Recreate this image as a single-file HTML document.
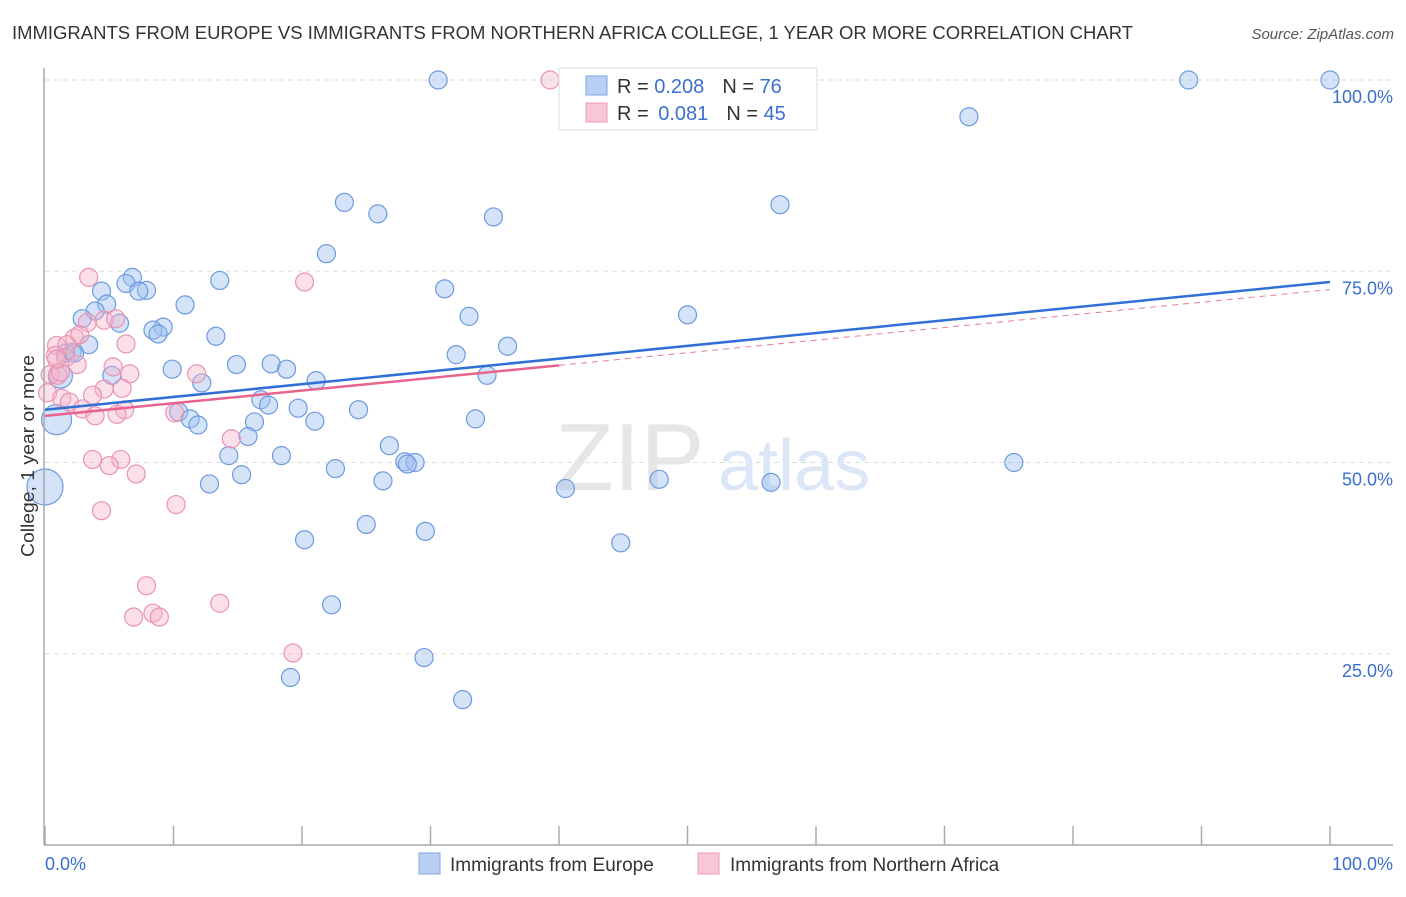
<!DOCTYPE html>
<html><head><meta charset="utf-8">
<style>
body{margin:0;background:#fff;font-family:"Liberation Sans",sans-serif;}
svg text{font-family:"Liberation Sans",sans-serif;}
</style></head>
<body>
<svg id="chart" width="1406" height="892" xmlns="http://www.w3.org/2000/svg">
<text x="12" y="39" font-size="18" fill="#333" textLength="1121" lengthAdjust="spacingAndGlyphs">IMMIGRANTS FROM EUROPE VS IMMIGRANTS FROM NORTHERN AFRICA COLLEGE, 1 YEAR OR MORE CORRELATION CHART</text>
<text x="1394" y="39" font-size="15" fill="#555" text-anchor="end" font-style="italic">Source: ZipAtlas.com</text>
<g id="grid"></g>
<text x="555" y="490" font-size="96" fill="#e6e6e6" font-family="Liberation Serif">ZIP</text>
<text x="718" y="490" font-size="72" fill="#dbe6f6">atlas</text>
<g id="marks"></g>
<line x1="44" y1="68" x2="44" y2="845" stroke="#aaa" stroke-width="1.5"/>
<line x1="44" y1="845" x2="1393" y2="845" stroke="#aaa" stroke-width="1.5"/>
<text transform="translate(34,456) rotate(-90)" font-size="18" fill="#333" text-anchor="middle" textLength="202" lengthAdjust="spacingAndGlyphs">College, 1 year or more</text>
<text x="45" y="870" font-size="18" fill="#3a6fd0">0.0%</text>
<text x="1393" y="870" font-size="18" fill="#3a6fd0" text-anchor="end">100.0%</text>
<g>
<rect x="559" y="68" width="258" height="62" fill="#fff" stroke="#ddd"/>
<rect x="586" y="76" width="21" height="19" fill="#b9d0f3" stroke="#7ea6e6"/>
<rect x="586" y="103" width="21" height="19" fill="#f8c7d6" stroke="#ec9ab4"/>
<text x="617" y="93" font-size="20" fill="#333">R = <tspan fill="#3a6fd0">0.208</tspan><tspan dx="18">N = </tspan><tspan fill="#3a6fd0">76</tspan></text>
<text x="617" y="120" font-size="20" fill="#333">R = <tspan dx="4" fill="#3a6fd0">0.081</tspan><tspan dx="18">N = </tspan><tspan fill="#3a6fd0">45</tspan></text>
</g>
<g>
<rect x="419" y="853" width="21" height="21" fill="#b9d0f3" stroke="#7ea6e6"/>
<text x="450" y="871" font-size="19" fill="#333">Immigrants from Europe</text>
<rect x="698" y="853" width="21" height="21" fill="#f8c7d6" stroke="#ec9ab4"/>
<text x="730" y="871" font-size="19" fill="#333">Immigrants from Northern Africa</text>
</g>
</svg>
<script>
const yTicks=[25,50,75,100];
const yTickLabels=["25.0%","50.0%","75.0%","100.0%"];
const xTicks=[0,10,20,30,40,50,60,70,80,90,100];
const europeX=[30.6,89,100,71.9,23.3,25.9,34.9,57.2,21.9,6.8,13.6,6.3,7.9,7.3,4.4,10.9,4.8,3.9,2.9,5.8,31.1,33,50,9.2,8.4,8.8,13.3,3.4,2.1,1.6,2.3,36,32,14.9,17.6,18.8,9.9,5.2,1.2,21.1,34.4,12.2,16.8,17.4,19.7,24.4,10.4,11.3,11.9,16.3,21,33.5,0.9,15.8,26.8,14.3,18.4,28,28.8,28.2,75.4,22.6,15.3,26.3,47.8,56.5,12.8,40.5,0,25,29.6,20.2,44.8,22.3,29.5,19.1,32.5];
const europeY=[100,100,100,95.2,84,82.5,82.1,83.7,77.3,74.2,73.8,73.4,72.5,72.4,72.4,70.6,70.7,69.8,68.8,68.2,72.7,69.1,69.3,67.7,67.3,66.8,66.5,65.4,64.4,64.3,64.3,65.2,64.1,62.8,62.9,62.2,62.2,61.4,61.3,60.7,61.4,60.4,58.2,57.5,57.1,56.9,56.6,55.7,54.9,55.3,55.4,55.7,55.6,53.4,52.2,50.9,50.9,50.1,50,49.8,50,49.2,48.4,47.6,47.8,47.4,47.2,46.6,46.8,41.9,41,39.9,39.5,31.4,24.5,21.9,19];
const europeR=[9,9,9,9,9,9,9,9,9,9,9,9,9,9,9,9,9,9,9,9,9,9,9,9,9,9,9,9,9,9,9,9,9,9,9,9,9,9,12,9,9,9,9,9,9,9,9,9,9,9,9,9,15,9,9,9,9,9,9,9,9,9,9,9,9,9,9,9,18,9,9,9,9,9,9,9,9];
const africaX=[39.3,3.4,20.2,0.9,4.6,3.3,5.5,2.3,2.7,1.7,6.3,0.8,1.6,5.3,0.4,1,6.6,1.2,4.6,6,3.7,0.2,1.3,1.9,2.9,6.2,5.6,3.9,10.1,11.8,14.5,3.7,5.9,5,7.1,4.4,10.2,7.9,13.6,6.9,8.4,8.9,19.3,0.9,2.5];
const africaY=[100,74.2,73.6,65.3,68.6,68.3,68.8,66.3,66.7,65.4,65.5,64,63.7,62.5,61.5,61.4,61.6,61.8,59.6,59.7,58.8,59.1,58.4,57.9,57,56.9,56.3,56.1,56.5,61.6,53.1,50.4,50.4,49.6,48.5,43.7,44.5,33.9,31.6,29.8,30.3,29.8,25.1,63.5,62.8];
const europeFit=[56.9,73.6];
const africaFit=[56.1,72.6];
const africaSolidEnd=40;
const X=v=>45+v*12.85, Y=v=>845-v*7.65;
const NS="http://www.w3.org/2000/svg";
const grid=document.getElementById('grid'), marks=document.getElementById('marks');
function mk(tag,attrs,parent){const e=document.createElementNS(NS,tag);for(const k in attrs)e.setAttribute(k,attrs[k]);parent.appendChild(e);return e;}
yTicks.forEach((t,i)=>{
  const g=mk('line',{x1:45,x2:1393,y1:Y(t),y2:Y(t),stroke:'#ddd','stroke-dasharray':'5,4'},grid);
  
  
  const l=mk('text',{x:1393,y:Y(t)+23,'font-size':18,fill:'#3a6fd0','text-anchor':'end'},grid);
  l.textContent=yTickLabels[i];
  
  
});
xTicks.forEach(t=>{
  const k=mk('line',{x1:X(t),x2:X(t),y1:826,y2:845,stroke:'#aaa','stroke-width':1.5},grid);
  
  
});
europeX.forEach((x,i)=>{
  const c=mk('circle',{cx:X(x),cy:Y(europeY[i]),r:europeR[i],fill:'rgba(160,192,240,0.45)',stroke:'#6c9ae0','stroke-width':1.2},marks);
  
  
});
africaX.forEach((x,i)=>{
  const c=mk('circle',{cx:X(x),cy:Y(africaY[i]),r:9,fill:'rgba(245,178,200,0.4)',stroke:'#ea93b0','stroke-width':1.2},marks);
  
  
});
const bl=mk('line',{x1:X(0),y1:Y(europeFit[0]),x2:X(100),y2:Y(europeFit[1]),stroke:'#2f6fd6','stroke-width':2.5},marks);


const pAt=v=>africaFit[0]+(africaFit[1]-africaFit[0])*v/100;
const pl=mk('line',{x1:X(0),y1:Y(pAt(0)),x2:X(africaSolidEnd),y2:Y(pAt(africaSolidEnd)),stroke:'#e8648f','stroke-width':2.5},marks);


const pd=mk('line',{x1:X(africaSolidEnd),y1:Y(pAt(africaSolidEnd)),x2:X(100),y2:Y(pAt(100)),stroke:'#e8799c','stroke-width':1,'stroke-dasharray':'6,5'},marks);


</script>
</body></html>
